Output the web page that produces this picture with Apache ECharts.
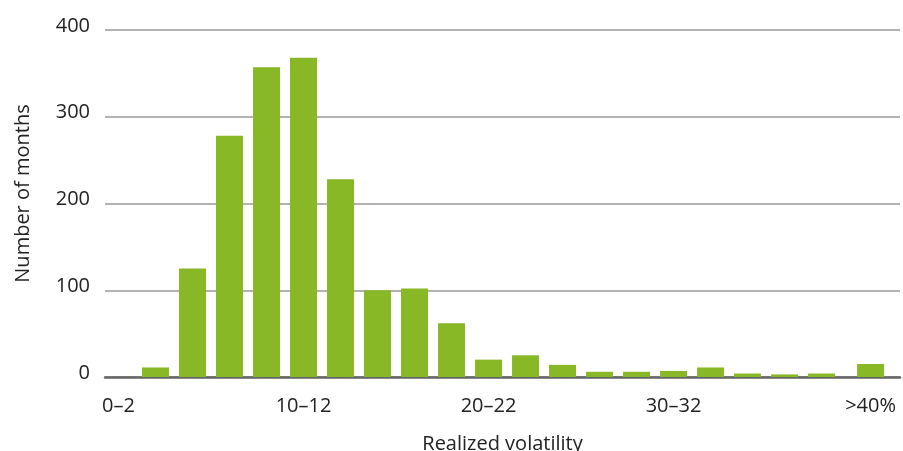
<!DOCTYPE html>
<html>
<head>
<meta charset="utf-8">
<script src="https://cdn.jsdelivr.net/npm/echarts@6/dist/echarts.min.js"></script>
<style>
html,body{margin:0;padding:0;background:#fff;}
#chart{width:903px;height:451px;}
</style>
</head>
<body>
<div id="chart"></div>
<script>
// Bin labels (realized volatility, %)
var categories = ['0–2','2–4','4–6','6–8','8–10','10–12','12–14','14–16','16–18','18–20',
  '20–22','22–24','24–26','26–28','28–30','30–32','32–34','34–36','36–38','38–40','>40%'];
// Number of months in each bin
var counts = [0, 11, 125, 278, 357, 368, 228, 100, 102, 62,
  20, 25, 14, 6, 6, 7, 11, 4, 3, 4, 15];
// Bins whose label is shown on the x axis
var labeledBins = ['0–2','10–12','20–22','30–32','>40%'];
// The open-ended bin is drawn a little apart from the regular 2-point bins
var openBinPosition = 41.65;
var yTicks = [0, 100, 200, 300, 400];

// bin midpoints on the volatility scale
function binMid(i){ return i < categories.length - 1 ? 1 + 2 * i : openBinPosition; }
var seriesData = counts.map(function(v, i){ return [binMid(i), v]; });
var labelPos = labeledBins.map(function(c){ return binMid(categories.indexOf(c)); });

var chart = echarts.init(document.getElementById('chart'));
var font = 'Open Sans';
chart.setOption({
  animation: false,
  grid: {left: 105, right: 3, top: 30, bottom: 74, outerBoundsMode: 'none', containLabel: false},
  xAxis: {
    type: 'value',
    min: 0.27, max: 43.24,
    name: 'Realized volatility',
    nameLocation: 'middle',
    nameGap: 57,
    nameTextStyle: {fontFamily: font, fontSize: 20, color: '#222'},
    axisLine: {show: true, lineStyle: {color: '#666', width: 2.5}},
    axisTick: {show: false},
    splitLine: {show: false},
    axisLabel: {
      customValues: labelPos,
      fontFamily: font, fontSize: 20, color: '#222', margin: 19,
      formatter: function(v){
        var idx = labelPos.findIndex(function(p){ return Math.abs(p - v) < 1e-6; });
        return idx >= 0 ? labeledBins[idx] : '';
      }
    }
  },
  yAxis: {
    type: 'value',
    min: yTicks[0], max: yTicks[yTicks.length - 1], interval: 100,
    name: 'Number of months',
    nameLocation: 'middle',
    nameGap: 72,
    nameTextStyle: {fontFamily: font, fontSize: 20, color: '#222', padding: [0, 0, 0, 20]},
    axisLine: {show: false},
    axisTick: {show: false},
    splitLine: {lineStyle: {color: '#999', width: 1.5}},
    axisLabel: {fontFamily: font, fontSize: 20, color: '#222', margin: 15,
      verticalAlign: 'bottom', lineHeight: 20, padding: [0,0,-6,0]}
  },
  series: [{
    type: 'bar',
    data: seriesData,
    barWidth: 27,
    itemStyle: {color: '#89b827'}
  }]
});
</script>
</body>
</html>
